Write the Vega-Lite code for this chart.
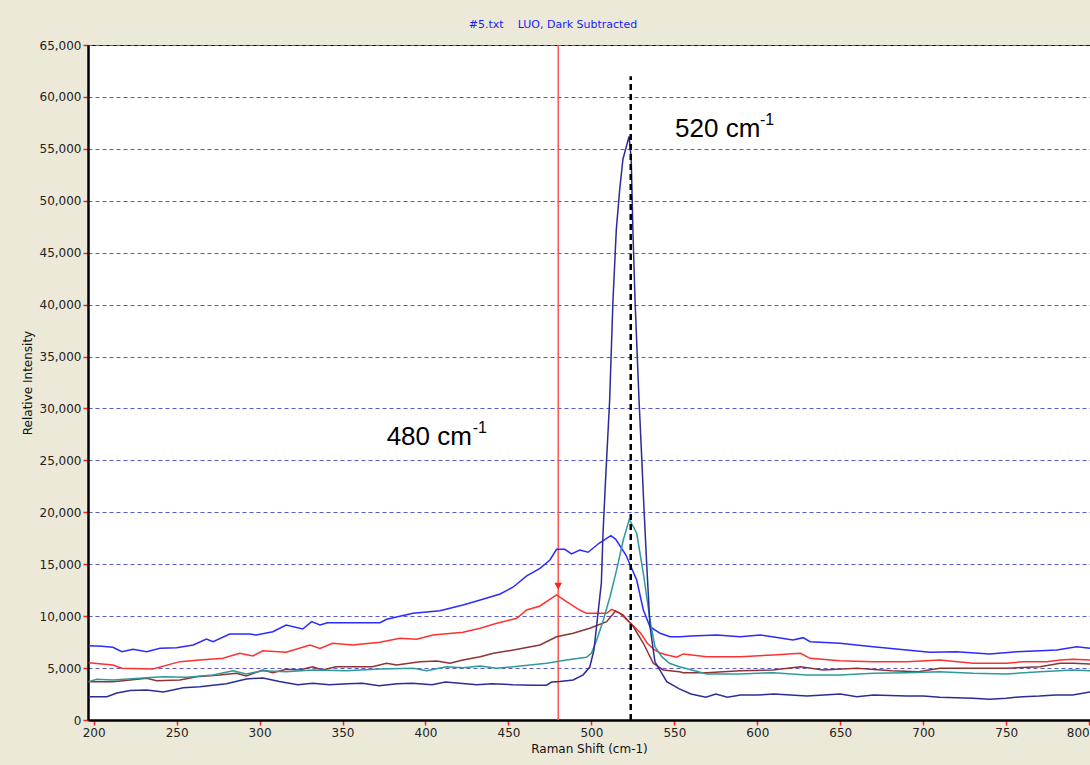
{
"$schema": "https://vega.github.io/schema/vega-lite/v6.json",
"width": 1002, "height": 675,
"autosize": {"type": "none"},
"padding": {"left": 88, "top": 45, "right": 0, "bottom": 45},
"background": "#ECE9D8",
"title": {"text": "#5.txt\u00a0\u00a0\u00a0 LUO, Dark Subtracted", "color": "#1A1AFF", "font": "DejaVu Sans", "fontSize": 11, "fontWeight": "normal", "anchor": "middle", "frame": "group", "dx": -36, "dy": 18, "offset": 16, "baseline": "bottom"},
"config": {
  "view": {"fill": "white", "stroke": "black", "strokeWidth": 1},
  "axis": {"labelFont": "DejaVu Sans", "labelFontSize": 12, "labelColor": "#222222", "titleFont": "DejaVu Sans", "titleFontSize": 12, "titleFontWeight": "normal", "titleColor": "#111111", "domainColor": "black", "domainWidth": 2.5, "tickColor": "#FF2020", "tickWidth": 1.5, "tickSize": 5, "labelPadding": 2}
},
"datasets": {
"spectra": [
{"s":"1B","x":197,"y":7160},{"s":"1B","x":205,"y":7100},{"s":"1B","x":211.6,"y":7000},{"s":"1B","x":217,"y":6580},{"s":"1B","x":223.7,"y":6800},{"s":"1B","x":232,"y":6580},{"s":"1B","x":240,"y":6900},{"s":"1B","x":250,"y":6960},{"s":"1B","x":260,"y":7220},{"s":"1B","x":268,"y":7800},{"s":"1B","x":272,"y":7540},{"s":"1B","x":282,"y":8280},{"s":"1B","x":294,"y":8280},{"s":"1B","x":298,"y":8190},{"s":"1B","x":308,"y":8500},{"s":"1B","x":316,"y":9150},{"s":"1B","x":326,"y":8760},{"s":"1B","x":331.4,"y":9470},{"s":"1B","x":336.4,"y":9150},{"s":"1B","x":341,"y":9370},{"s":"1B","x":372.6,"y":9370},{"s":"1B","x":376.6,"y":9700},{"s":"1B","x":392.5,"y":10270},{"s":"1B","x":408.7,"y":10530},{"s":"1B","x":422.6,"y":11070},{"s":"1B","x":433,"y":11560},{"s":"1B","x":445,"y":12130},{"s":"1B","x":452.9,"y":12810},{"s":"1B","x":461,"y":13870},{"s":"1B","x":469,"y":14610},{"s":"1B","x":475,"y":15410},{"s":"1B","x":479,"y":16440},{"s":"1B","x":484,"y":16440},{"s":"1B","x":488,"y":15990},{"s":"1B","x":493,"y":16370},{"s":"1B","x":498,"y":16150},{"s":"1B","x":504.6,"y":17020},{"s":"1B","x":511.7,"y":17750},{"s":"1B","x":514.7,"y":17400},{"s":"1B","x":520.8,"y":15890},{"s":"1B","x":527.3,"y":13480},{"s":"1B","x":531.3,"y":10590},{"s":"1B","x":535.3,"y":8980},{"s":"1B","x":541.4,"y":8350},{"s":"1B","x":547.4,"y":8020},{"s":"1B","x":553.4,"y":8020},{"s":"1B","x":560,"y":8100},{"s":"1B","x":575.5,"y":8190},{"s":"1B","x":589.6,"y":8020},{"s":"1B","x":601.7,"y":8190},{"s":"1B","x":610,"y":8000},{"s":"1B","x":621.5,"y":7700},{"s":"1B","x":627.6,"y":7930},{"s":"1B","x":631.8,"y":7540},{"s":"1B","x":649.8,"y":7380},{"s":"1B","x":669.7,"y":7060},{"s":"1B","x":690,"y":6740},{"s":"1B","x":704,"y":6520},{"s":"1B","x":720,"y":6580},{"s":"1B","x":740,"y":6360},{"s":"1B","x":756.4,"y":6580},{"s":"1B","x":770.4,"y":6670},{"s":"1B","x":780.5,"y":6740},{"s":"1B","x":792.5,"y":7060},{"s":"1B","x":800.5,"y":6900},
{"s":"2R","x":197,"y":5520},{"s":"2R","x":211.6,"y":5300},{"s":"2R","x":217,"y":4980},{"s":"2R","x":235.7,"y":4910},{"s":"2R","x":252,"y":5620},{"s":"2R","x":264,"y":5780},{"s":"2R","x":278,"y":5940},{"s":"2R","x":288,"y":6420},{"s":"2R","x":296,"y":6160},{"s":"2R","x":302,"y":6670},{"s":"2R","x":316,"y":6520},{"s":"2R","x":330.4,"y":7220},{"s":"2R","x":336.4,"y":6900},{"s":"2R","x":344,"y":7380},{"s":"2R","x":356,"y":7220},{"s":"2R","x":372.6,"y":7480},{"s":"2R","x":384.6,"y":7870},{"s":"2R","x":394.7,"y":7770},{"s":"2R","x":404.5,"y":8190},{"s":"2R","x":422.6,"y":8450},{"s":"2R","x":433,"y":8830},{"s":"2R","x":443,"y":9310},{"s":"2R","x":455,"y":9790},{"s":"2R","x":461,"y":10590},{"s":"2R","x":469,"y":10980},{"s":"2R","x":479,"y":12040},{"s":"2R","x":485,"y":11390},{"s":"2R","x":493,"y":10590},{"s":"2R","x":497,"y":10270},{"s":"2R","x":509.2,"y":10270},{"s":"2R","x":512.2,"y":10660},{"s":"2R","x":517.2,"y":10270},{"s":"2R","x":523.7,"y":9310},{"s":"2R","x":529.7,"y":8350},{"s":"2R","x":533.7,"y":7390},{"s":"2R","x":537.7,"y":6810},{"s":"2R","x":541,"y":6480},{"s":"2R","x":545.7,"y":6260},{"s":"2R","x":551.4,"y":6040},{"s":"2R","x":555.4,"y":6360},{"s":"2R","x":569.5,"y":6100},{"s":"2R","x":589.6,"y":6100},{"s":"2R","x":609.5,"y":6260},{"s":"2R","x":626,"y":6420},{"s":"2R","x":631.8,"y":5940},{"s":"2R","x":649.8,"y":5710},{"s":"2R","x":669.7,"y":5620},{"s":"2R","x":690,"y":5620},{"s":"2R","x":710,"y":5780},{"s":"2R","x":730,"y":5460},{"s":"2R","x":750.3,"y":5460},{"s":"2R","x":760,"y":5620},{"s":"2R","x":774.4,"y":5620},{"s":"2R","x":782.5,"y":5780},{"s":"2R","x":790.4,"y":5840},{"s":"2R","x":800.5,"y":5780},
{"s":"3M","x":197,"y":3690},{"s":"3M","x":211.6,"y":3690},{"s":"3M","x":222,"y":3850},{"s":"3M","x":232,"y":4010},{"s":"3M","x":238,"y":3790},{"s":"3M","x":252,"y":3850},{"s":"3M","x":262,"y":4170},{"s":"3M","x":276,"y":4330},{"s":"3M","x":286,"y":4500},{"s":"3M","x":292,"y":4240},{"s":"3M","x":302,"y":4820},{"s":"3M","x":308,"y":4560},{"s":"3M","x":316,"y":4880},{"s":"3M","x":324,"y":4820},{"s":"3M","x":332,"y":5130},{"s":"3M","x":338,"y":4820},{"s":"3M","x":346,"y":5130},{"s":"3M","x":368,"y":5130},{"s":"3M","x":376.6,"y":5460},{"s":"3M","x":382.6,"y":5300},{"s":"3M","x":396.7,"y":5620},{"s":"3M","x":406.8,"y":5680},{"s":"3M","x":414.8,"y":5460},{"s":"3M","x":422.6,"y":5780},{"s":"3M","x":433,"y":6100},{"s":"3M","x":441,"y":6420},{"s":"3M","x":453,"y":6740},{"s":"3M","x":469,"y":7220},{"s":"3M","x":479,"y":8020},{"s":"3M","x":489,"y":8350},{"s":"3M","x":499,"y":8830},{"s":"3M","x":509.2,"y":9470},{"s":"3M","x":514.5,"y":10500},{"s":"3M","x":519.2,"y":10100},{"s":"3M","x":525.3,"y":8980},{"s":"3M","x":531.3,"y":7390},{"s":"3M","x":537.3,"y":5460},{"s":"3M","x":543.3,"y":4820},{"s":"3M","x":553,"y":4650},{"s":"3M","x":555.4,"y":4560},{"s":"3M","x":569.5,"y":4560},{"s":"3M","x":589.6,"y":4750},{"s":"3M","x":609.5,"y":4820},{"s":"3M","x":626,"y":5130},{"s":"3M","x":639.6,"y":4820},{"s":"3M","x":660,"y":4980},{"s":"3M","x":681,"y":4750},{"s":"3M","x":697,"y":4650},{"s":"3M","x":710,"y":4980},{"s":"3M","x":730,"y":4980},{"s":"3M","x":750.3,"y":4980},{"s":"3M","x":770.4,"y":5130},{"s":"3M","x":782.5,"y":5460},{"s":"3M","x":790.4,"y":5460},{"s":"3M","x":800.5,"y":5390},
{"s":"4T","x":197,"y":3690},{"s":"4T","x":201.8,"y":3920},{"s":"4T","x":211.6,"y":3850},{"s":"4T","x":232,"y":4070},{"s":"4T","x":242,"y":4170},{"s":"4T","x":256,"y":4110},{"s":"4T","x":272,"y":4330},{"s":"4T","x":284,"y":4750},{"s":"4T","x":292,"y":4430},{"s":"4T","x":302,"y":4750},{"s":"4T","x":316,"y":4650},{"s":"4T","x":332.4,"y":4820},{"s":"4T","x":352.5,"y":4750},{"s":"4T","x":372.6,"y":4910},{"s":"4T","x":392.7,"y":4980},{"s":"4T","x":400.7,"y":4750},{"s":"4T","x":412.8,"y":5130},{"s":"4T","x":422.8,"y":5040},{"s":"4T","x":433,"y":5200},{"s":"4T","x":443,"y":4980},{"s":"4T","x":453,"y":5130},{"s":"4T","x":473,"y":5460},{"s":"4T","x":485,"y":5780},{"s":"4T","x":497,"y":6040},{"s":"4T","x":500,"y":6420},{"s":"4T","x":503.2,"y":7700},{"s":"4T","x":507.2,"y":9630},{"s":"4T","x":511.2,"y":11870},{"s":"4T","x":515.2,"y":14450},{"s":"4T","x":519.2,"y":17330},{"s":"4T","x":522.8,"y":19300},{"s":"4T","x":525.3,"y":18610},{"s":"4T","x":527.3,"y":17980},{"s":"4T","x":531.3,"y":14130},{"s":"4T","x":535.3,"y":9630},{"s":"4T","x":538.3,"y":7060},{"s":"4T","x":542.4,"y":6100},{"s":"4T","x":547,"y":5460},{"s":"4T","x":553,"y":5130},{"s":"4T","x":569.5,"y":4430},{"s":"4T","x":589.6,"y":4430},{"s":"4T","x":609.6,"y":4560},{"s":"4T","x":629.8,"y":4330},{"s":"4T","x":649.8,"y":4330},{"s":"4T","x":669.9,"y":4500},{"s":"4T","x":690,"y":4560},{"s":"4T","x":710,"y":4650},{"s":"4T","x":730,"y":4500},{"s":"4T","x":750.3,"y":4430},{"s":"4T","x":770.4,"y":4650},{"s":"4T","x":790.5,"y":4820},{"s":"4T","x":800.5,"y":4750},
{"s":"5N","x":197,"y":2250},{"s":"5N","x":208,"y":2250},{"s":"5N","x":214,"y":2600},{"s":"5N","x":222,"y":2850},{"s":"5N","x":232,"y":2900},{"s":"5N","x":242,"y":2700},{"s":"5N","x":254,"y":3100},{"s":"5N","x":264,"y":3200},{"s":"5N","x":280,"y":3500},{"s":"5N","x":292,"y":3950},{"s":"5N","x":302,"y":4050},{"s":"5N","x":312,"y":3700},{"s":"5N","x":323,"y":3400},{"s":"5N","x":332,"y":3550},{"s":"5N","x":342,"y":3400},{"s":"5N","x":353,"y":3500},{"s":"5N","x":362,"y":3550},{"s":"5N","x":372,"y":3300},{"s":"5N","x":383,"y":3500},{"s":"5N","x":392,"y":3550},{"s":"5N","x":404,"y":3400},{"s":"5N","x":412,"y":3650},{"s":"5N","x":431,"y":3400},{"s":"5N","x":440,"y":3500},{"s":"5N","x":452.6,"y":3400},{"s":"5N","x":465,"y":3350},{"s":"5N","x":473,"y":3350},{"s":"5N","x":476,"y":3650},{"s":"5N","x":481,"y":3700},{"s":"5N","x":489,"y":3850},{"s":"5N","x":495,"y":4350},{"s":"5N","x":499,"y":5100},{"s":"5N","x":501.5,"y":6700},{"s":"5N","x":503.5,"y":9600},{"s":"5N","x":506,"y":13200},{"s":"5N","x":507,"y":18000},{"s":"5N","x":508.5,"y":23000},{"s":"5N","x":511,"y":30800},{"s":"5N","x":513,"y":40400},{"s":"5N","x":515,"y":47200},{"s":"5N","x":517,"y":51000},{"s":"5N","x":519,"y":54000},{"s":"5N","x":522.7,"y":56200},{"s":"5N","x":524,"y":54000},{"s":"5N","x":525,"y":47200},{"s":"5N","x":526.3,"y":40400},{"s":"5N","x":528.7,"y":30800},{"s":"5N","x":530.4,"y":25000},{"s":"5N","x":531.5,"y":21000},{"s":"5N","x":533.2,"y":15400},{"s":"5N","x":535.3,"y":9000},{"s":"5N","x":538.3,"y":5600},{"s":"5N","x":541.3,"y":4800},{"s":"5N","x":545.4,"y":3700},{"s":"5N","x":553,"y":3000},{"s":"5N","x":560,"y":2500},{"s":"5N","x":569,"y":2200},{"s":"5N","x":575,"y":2500},{"s":"5N","x":582,"y":2200},{"s":"5N","x":590,"y":2400},{"s":"5N","x":600,"y":2400},{"s":"5N","x":610,"y":2500},{"s":"5N","x":620,"y":2400},{"s":"5N","x":630,"y":2300},{"s":"5N","x":640,"y":2400},{"s":"5N","x":650,"y":2500},{"s":"5N","x":660,"y":2250},{"s":"5N","x":670,"y":2400},{"s":"5N","x":680,"y":2350},{"s":"5N","x":690,"y":2300},{"s":"5N","x":700,"y":2300},{"s":"5N","x":710,"y":2200},{"s":"5N","x":720,"y":2150},{"s":"5N","x":730,"y":2100},{"s":"5N","x":740,"y":2000},{"s":"5N","x":750,"y":2100},{"s":"5N","x":760,"y":2250},{"s":"5N","x":770,"y":2300},{"s":"5N","x":780,"y":2400},{"s":"5N","x":790,"y":2400},{"s":"5N","x":800.5,"y":2700}
]
},
"layer": [
  {
    "data": {"values": [{"x": 480, "y0": 0, "y1": 65000}]},
    "mark": {"type": "rule", "color": "#FF5555", "strokeWidth": 1.5},
    "encoding": {
      "x": {"field": "x", "type": "quantitative", "scale": {"domain": [196.6, 800.5], "nice": false, "zero": false},
        "axis": {"title": "Raman Shift (cm-1)", "values": [200,250,300,350,400,450,500,550,600,650,700,750,800], "format": "d", "grid": false, "labelOverlap": false, "labelBound": false, "titlePadding": 5}},
      "y": {"field": "y0", "type": "quantitative", "scale": {"domain": [0, 65000], "nice": false},
        "axis": {"title": "Relative Intensity", "values": [0,5000,10000,15000,20000,25000,30000,35000,40000,45000,50000,55000,60000,65000], "format": ",d", "grid": true, "gridColor": "#5A5ACD", "gridDash": [4, 3], "gridWidth": 1, "titlePadding": 5}},
      "y2": {"field": "y1"}
    }
  },
  {
    "data": {"name": "spectra"},
    "mark": {"type": "line", "strokeWidth": 1.5, "clip": true},
    "encoding": {
      "x": {"field": "x", "type": "quantitative"},
      "y": {"field": "y", "type": "quantitative"},
      "color": {"field": "s", "type": "nominal", "legend": null,
        "scale": {"domain": ["1B", "2R", "3M", "4T", "5N"], "range": ["#2B2BFF", "#FF3030", "#8E3434", "#2E9A9A", "#2C2C98"]}}
    }
  },
  {
    "data": {"values": [{"x": 523.7, "y0": 0, "y1": 62000}]},
    "mark": {"type": "rule", "color": "black", "strokeWidth": 2.5, "strokeDash": [6, 4]},
    "encoding": {
      "x": {"field": "x", "type": "quantitative"},
      "y": {"field": "y0", "type": "quantitative"},
      "y2": {"field": "y1"}
    }
  },
  {
    "data": {"values": [{"x": 480, "y": 12900}]},
    "mark": {"type": "point", "shape": "triangle-down", "filled": true, "color": "#FF2020", "size": 60, "opacity": 1},
    "encoding": {
      "x": {"field": "x", "type": "quantitative"},
      "y": {"field": "y", "type": "quantitative"}
    }
  },
  {
    "data": {"values": [{"x": 550.4, "y": 56170, "t": "520 cm"}, {"x": 376.6, "y": 26480, "t": "480 cm"}]},
    "mark": {"type": "text", "align": "left", "baseline": "alphabetic", "font": "Liberation Sans", "fontSize": 26, "color": "black"},
    "encoding": {
      "x": {"field": "x", "type": "quantitative"},
      "y": {"field": "y", "type": "quantitative"},
      "text": {"field": "t"}
    }
  },
  {
    "data": {"values": [{"x": 601.6, "y": 57300, "t": "-1"}, {"x": 428.5, "y": 27640, "t": "-1"}]},
    "mark": {"type": "text", "align": "left", "baseline": "alphabetic", "font": "Liberation Sans", "fontSize": 16, "color": "black"},
    "encoding": {
      "x": {"field": "x", "type": "quantitative"},
      "y": {"field": "y", "type": "quantitative"},
      "text": {"field": "t"}
    }
  }
]
}
